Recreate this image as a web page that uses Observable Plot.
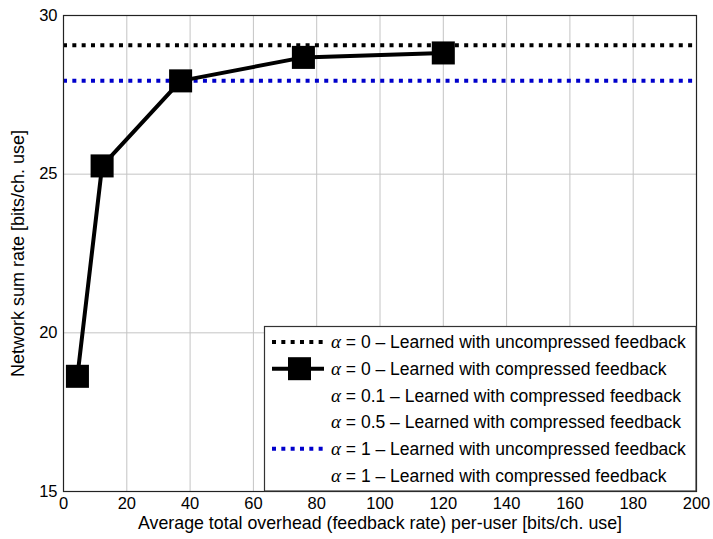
<!DOCTYPE html>
<html>
<head>
<meta charset="utf-8">
<script src="https://cdn.jsdelivr.net/npm/d3@7"></script>
<script src="https://cdn.jsdelivr.net/npm/@observablehq/plot@0.6"></script>
<style>
  html, body { margin: 0; padding: 0; background: white; }
  #chart svg { display: block; }
</style>
</head>
<body>
<div id="chart"></div>
<script>
// Average total overhead per user [bits/ch. use] and network sum rate for
// the alpha = 0 model learned with compressed feedback
const overhead = [4.4, 12.2, 37.0, 75.8, 120.0];
const sumRate = [18.63, 25.26, 27.94, 28.68, 28.82];

// Uncompressed-feedback reference levels
const refLabels = ["α = 0 uncompressed", "α = 1 uncompressed"];
const refValues = [29.06, 27.94];
const refColors = ["#000000", "#0000cc"];

// Axis ticks
const xTicks = [0, 20, 40, 60, 80, 100, 120, 140, 160, 180, 200];
const yTicks = [15, 20, 25, 30];

// Legend entries
const legendAlpha = ["0", "0", "0.1", "0.5", "1", "1"];
const legendText = [
  "Learned with uncompressed feedback",
  "Learned with compressed feedback",
  "Learned with compressed feedback",
  "Learned with compressed feedback",
  "Learned with uncompressed feedback",
  "Learned with compressed feedback"
];
const legendKind = ["dotted-black", "square", "none", "none", "dotted-blue", "none"];

const points = overhead.map((x, i) => ({x, y: sumRate[i]}));
const refs = refValues.map((v, i) => ({label: refLabels[i], value: v, color: refColors[i]}));

const FONT = "'Liberation Sans', Arial, sans-serif";
const DASH = "4,5.33";

const chart = Plot.plot({
  width: 713,
  height: 539,
  marginLeft: 63,
  marginRight: 17,
  marginTop: 15,
  marginBottom: 48,
  style: {fontFamily: FONT, fontSize: "16px", color: "#000", background: "white", overflow: "visible"},
  x: {domain: [0, 200]},
  y: {domain: [15, 30]},
  marks: [
    Plot.gridX(xTicks, {stroke: "#c4c4c4", strokeOpacity: 1, strokeWidth: 1}),
    Plot.gridY(yTicks, {stroke: "#c4c4c4", strokeOpacity: 1, strokeWidth: 1}),
    Plot.axisX(xTicks, {tickSize: 0, tickPadding: 6, label: null, fontSize: 16.5}),
    Plot.axisY(yTicks, {tickSize: 0, tickPadding: 6, label: null, fontSize: 16.5}),
    Plot.ruleY(refs, {y: "value", stroke: "color", strokeWidth: 4, strokeDasharray: DASH}),
    Plot.line(points, {x: "x", y: "y", stroke: "black", strokeWidth: 4}),
    Plot.dot(points, {x: "x", y: "y", symbol: "square", r: 13, fill: "black", stroke: "none"}),
    Plot.frame({stroke: "#222", strokeWidth: 1.2}),
    Plot.text(["Average total overhead (feedback rate) per-user [bits/ch. use]"], {
      frameAnchor: "bottom", dy: 32, fontSize: 17.8, textAnchor: "middle", lineAnchor: "middle"
    }),
    Plot.text(["Network sum rate [bits/ch. use]"], {
      frameAnchor: "left", dx: -45, rotate: -90, fontSize: 18, textAnchor: "middle", lineAnchor: "middle"
    })
  ]
});

document.getElementById("chart").appendChild(chart);

// Legend box in the lower-right corner of the plotting area
const svg = d3.select(chart);
const boxLeft = 264.5, boxTop = 326.5, boxRight = 696, boxBottom = 491;
const leg = svg.append("g")
  .attr("font-family", FONT).attr("font-size", 17.5).attr("text-anchor", "start");
leg.append("rect")
  .attr("x", boxLeft).attr("y", boxTop)
  .attr("width", boxRight - boxLeft).attr("height", boxBottom - boxTop)
  .attr("fill", "white").attr("stroke", "#333").attr("stroke-width", 1.2);

const rowY0 = 342, rowStep = 26.7;
const sampleX1 = 272, sampleX2 = 326, textX = 331;
legendText.forEach((t, i) => {
  const y = rowY0 + i * rowStep;
  const kind = legendKind[i];
  if (kind === "dotted-black" || kind === "dotted-blue") {
    leg.append("line")
      .attr("x1", sampleX1).attr("x2", sampleX2).attr("y1", y).attr("y2", y)
      .attr("stroke", kind === "dotted-blue" ? refColors[1] : refColors[0])
      .attr("stroke-width", 4).attr("stroke-dasharray", DASH);
  } else if (kind === "square") {
    leg.append("line")
      .attr("x1", sampleX1).attr("x2", sampleX2 - 2).attr("y1", y).attr("y2", y)
      .attr("stroke", "black").attr("stroke-width", 4);
    leg.append("rect")
      .attr("x", 299.5 - 11.5).attr("y", y - 11.5)
      .attr("width", 23).attr("height", 23).attr("fill", "black");
  }
  const txt = leg.append("text").attr("x", textX).attr("y", y).attr("dy", "0.35em");
  txt.append("tspan")
    .attr("font-family", "'Liberation Serif', 'DejaVu Serif', serif")
    .attr("font-style", "italic").attr("font-size", 19).text("α");
  txt.append("tspan").text(` = ${legendAlpha[i]} – ${t}`);
});
</script>
</body>
</html>
